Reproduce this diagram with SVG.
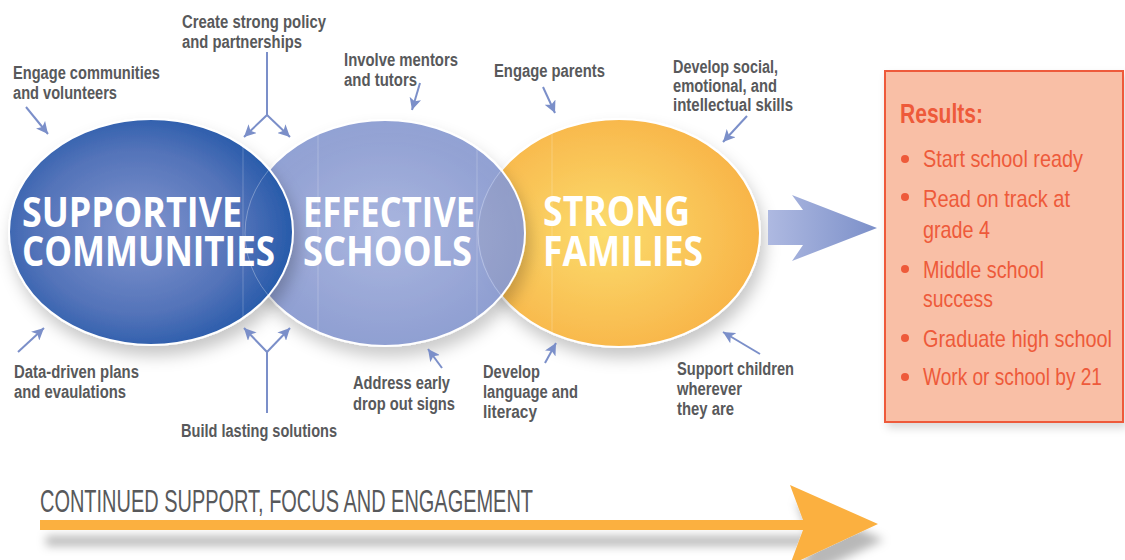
<svg xmlns="http://www.w3.org/2000/svg" width="1125" height="560" viewBox="0 0 1125 560">
  <style>
    .lbl { font-family: "Liberation Sans", Arial, sans-serif; font-weight: bold; font-size: 18px; fill: #58595b; }
    .big { font-family: "Open Sans", "Noto Sans", sans-serif; font-weight: bold; font-size: 42px; fill: #ffffff; }
    .res { font-family: "Liberation Sans", Arial, sans-serif; font-size: 24px; fill: #ee5a3a; }
    .resh { font-family: "Liberation Sans", Arial, sans-serif; font-weight: bold; font-size: 27px; fill: #ee5a3a; }
    .foot { font-family: "Liberation Sans", Arial, sans-serif; font-size: 32px; fill: #58595b; }
    .conn { fill: none; stroke: #7b8fc9; stroke-width: 2; marker-end: url(#ah); }
    .ring { fill: none; stroke: #ffffff; stroke-width: 2; }
    .faint { fill: none; stroke: #ffffff; stroke-opacity: 0.3; stroke-width: 1; }
    .vl { stroke: #ffffff; stroke-opacity: 0.22; stroke-width: 1; }
  </style>
  <defs>
    <marker id="ah" markerUnits="userSpaceOnUse" markerWidth="14" markerHeight="12" refX="12" refY="6" orient="auto">
      <path d="M0,0 L12,6 L0,12 L3,6 z" fill="#7b8fc9"/>
    </marker>
    <radialGradient id="g1" cx="0.45" cy="0.5" r="0.56">
      <stop offset="0" stop-color="#8396cf"/>
      <stop offset="0.65" stop-color="#5373b9"/>
      <stop offset="1" stop-color="#2459a9"/>
    </radialGradient>
    <radialGradient id="g2" cx="0.5" cy="0.5" r="0.55">
      <stop offset="0" stop-color="#a6b3df"/>
      <stop offset="1" stop-color="#8798cf"/>
    </radialGradient>
    <radialGradient id="g3" cx="0.45" cy="0.5" r="0.56">
      <stop offset="0" stop-color="#fbdc6d"/>
      <stop offset="1" stop-color="#f8b448"/>
    </radialGradient>
    <linearGradient id="gArrow" x1="0" y1="0" x2="1" y2="0">
      <stop offset="0" stop-color="#aeb9e1"/>
      <stop offset="1" stop-color="#7c90c9"/>
    </linearGradient>
    <filter id="sh" x="-20%" y="-20%" width="140%" height="150%">
      <feDropShadow dx="4" dy="10" stdDeviation="8" flood-color="#000" flood-opacity="0.22"/>
    </filter>
    <filter id="sh2" x="-10%" y="-50%" width="120%" height="250%">
      <feDropShadow dx="6" dy="16" stdDeviation="5" flood-color="#000" flood-opacity="0.28"/>
    </filter>
    <filter id="sh3" x="-10%" y="-10%" width="120%" height="120%">
      <feDropShadow dx="3" dy="5" stdDeviation="4" flood-color="#000" flood-opacity="0.15"/>
    </filter>
    <clipPath id="c1"><ellipse cx="151" cy="232" rx="142" ry="113"/></clipPath>
    <clipPath id="c2"><ellipse cx="385" cy="233" rx="140" ry="113"/></clipPath>
    <clipPath id="c3"><ellipse cx="619" cy="233" rx="141" ry="114"/></clipPath>
  </defs>

  <rect width="1125" height="560" fill="#ffffff"/>

  <!-- Strong families -->
  <g id="node-strong-families">
    <ellipse cx="619" cy="233" rx="141" ry="114" fill="url(#g3)" class="ring" style="fill:url(#g3)" filter="url(#sh)"/>
    <line x1="552" y1="100" x2="552" y2="360" class="vl" clip-path="url(#c3)"/>
  </g>

  <!-- Effective schools -->
  <g id="node-effective-schools">
    <ellipse cx="385" cy="233" rx="140" ry="113" style="fill:url(#g2)" fill-opacity="0.93" class="ring" filter="url(#sh)"/>
    <g clip-path="url(#c2)">
      <line x1="318" y1="100" x2="318" y2="360" class="vl"/>
      <line x1="477" y1="100" x2="477" y2="360" class="vl"/>
    </g>
    <ellipse cx="619" cy="233" rx="141" ry="114" class="faint" clip-path="url(#c2)"/>
  </g>

  <!-- Supportive communities -->
  <g id="node-supportive-communities">
    <ellipse cx="151" cy="232" rx="142" ry="113" style="fill:url(#g1)" class="ring" filter="url(#sh)"/>
    <line x1="243" y1="100" x2="243" y2="360" class="vl" clip-path="url(#c1)"/>
    <ellipse cx="385" cy="233" rx="140" ry="113" class="faint" clip-path="url(#c1)"/>
  </g>

  <g id="node-texts">
    <text class="big" x="22" y="227" textLength="220" lengthAdjust="spacingAndGlyphs">SUPPORTIVE</text>
    <text class="big" x="22" y="266" textLength="253" lengthAdjust="spacingAndGlyphs">COMMUNITIES</text>
    <text class="big" x="303" y="227" textLength="172" lengthAdjust="spacingAndGlyphs">EFFECTIVE</text>
    <text class="big" x="303" y="266" textLength="169" lengthAdjust="spacingAndGlyphs">SCHOOLS</text>
    <text class="big" x="543" y="226" textLength="147" lengthAdjust="spacingAndGlyphs">STRONG</text>
    <text class="big" x="543" y="266" textLength="160" lengthAdjust="spacingAndGlyphs">FAMILIES</text>
  </g>

  <!-- Big arrow to results -->
  <g id="node-result-arrow">
    <polygon points="768,210 803,210 792,195 877,228 792,261 803,245 768,245" fill="url(#gArrow)"/>
  </g>

  <!-- Results box -->
  <g id="node-results">
    <rect x="885" y="71" width="238" height="351" fill="#f9bfa6" stroke="#ee5a3a" stroke-width="2" filter="url(#sh3)"/>
    <text class="resh" x="900" y="123" textLength="83" lengthAdjust="spacingAndGlyphs">Results:</text>
    <g fill="#ee5a3a">
      <circle cx="905" cy="159" r="4"/>
      <circle cx="905" cy="197" r="4"/>
      <circle cx="905" cy="269" r="4"/>
      <circle cx="905" cy="338" r="4"/>
      <circle cx="905" cy="377" r="4"/>
    </g>
    <text class="res" x="923" y="167" textLength="160" lengthAdjust="spacingAndGlyphs">Start school ready</text>
    <text class="res" x="923" y="207" textLength="147" lengthAdjust="spacingAndGlyphs">Read on track at</text>
    <text class="res" x="923" y="238" textLength="67" lengthAdjust="spacingAndGlyphs">grade 4</text>
    <text class="res" x="923" y="278" textLength="121" lengthAdjust="spacingAndGlyphs">Middle school</text>
    <text class="res" x="923" y="307" textLength="70" lengthAdjust="spacingAndGlyphs">success</text>
    <text class="res" x="923" y="347" textLength="189" lengthAdjust="spacingAndGlyphs">Graduate high school</text>
    <text class="res" x="923" y="385" textLength="179" lengthAdjust="spacingAndGlyphs">Work or school by 21</text>
  </g>

  <!-- Labels -->
  <g id="node-labels">
    <text class="lbl" x="13" y="79" textLength="147" lengthAdjust="spacingAndGlyphs">Engage communities</text>
    <text class="lbl" x="13" y="99" textLength="104" lengthAdjust="spacingAndGlyphs">and volunteers</text>
    <text class="lbl" x="182" y="28" textLength="144" lengthAdjust="spacingAndGlyphs">Create strong policy</text>
    <text class="lbl" x="182" y="48" textLength="120" lengthAdjust="spacingAndGlyphs">and partnerships</text>
    <text class="lbl" x="344" y="66" textLength="114" lengthAdjust="spacingAndGlyphs">Involve mentors</text>
    <text class="lbl" x="344" y="86" textLength="73" lengthAdjust="spacingAndGlyphs">and tutors</text>
    <text class="lbl" x="494" y="77" textLength="111" lengthAdjust="spacingAndGlyphs">Engage parents</text>
    <text class="lbl" x="673" y="73" textLength="105" lengthAdjust="spacingAndGlyphs">Develop social,</text>
    <text class="lbl" x="673" y="92" textLength="104" lengthAdjust="spacingAndGlyphs">emotional, and</text>
    <text class="lbl" x="673" y="111" textLength="120" lengthAdjust="spacingAndGlyphs">intellectual skills</text>
    <text class="lbl" x="14" y="378" textLength="125" lengthAdjust="spacingAndGlyphs">Data-driven plans</text>
    <text class="lbl" x="14" y="398" textLength="112" lengthAdjust="spacingAndGlyphs">and evaulations</text>
    <text class="lbl" x="181" y="437" textLength="156" lengthAdjust="spacingAndGlyphs">Build lasting solutions</text>
    <text class="lbl" x="353" y="389" textLength="97" lengthAdjust="spacingAndGlyphs">Address early</text>
    <text class="lbl" x="353" y="410" textLength="102" lengthAdjust="spacingAndGlyphs">drop out signs</text>
    <text class="lbl" x="483" y="378" textLength="57" lengthAdjust="spacingAndGlyphs">Develop</text>
    <text class="lbl" x="483" y="398" textLength="95" lengthAdjust="spacingAndGlyphs">language and</text>
    <text class="lbl" x="483" y="418" textLength="54" lengthAdjust="spacingAndGlyphs">literacy</text>
    <text class="lbl" x="677" y="375" textLength="117" lengthAdjust="spacingAndGlyphs">Support children</text>
    <text class="lbl" x="677" y="395" textLength="65" lengthAdjust="spacingAndGlyphs">wherever</text>
    <text class="lbl" x="677" y="415" textLength="57" lengthAdjust="spacingAndGlyphs">they are</text>
  </g>

  <!-- Connectors -->
  <g id="connectors">
    <path class="conn" d="M26,107 L48,134"/>
    <path class="conn" d="M267,52 V115 L244,137"/>
    <path class="conn" d="M267,115 L290,137"/>
    <path class="conn" d="M420,83 L412,110"/>
    <path class="conn" d="M543,87 L555,113"/>
    <path class="conn" d="M747,116 L723,142"/>
    <path class="conn" d="M18,352 L44,328"/>
    <path class="conn" d="M267,413 V352 L244,328"/>
    <path class="conn" d="M267,352 L290,328"/>
    <path class="conn" d="M442,368 L428,349"/>
    <path class="conn" d="M545,363 L556,343"/>
    <path class="conn" d="M760,354 L723,332"/>
  </g>

  <!-- Bottom arrow -->
  <g id="node-continued">
    <text class="foot" x="40" y="512" textLength="493" lengthAdjust="spacingAndGlyphs">CONTINUED SUPPORT, FOCUS AND ENGAGEMENT</text>
    <polygon points="40,520 803,520 790,485 878,524 790,565 803,530 40,530" fill="#fbb040" filter="url(#sh2)"/>
  </g>
</svg>
